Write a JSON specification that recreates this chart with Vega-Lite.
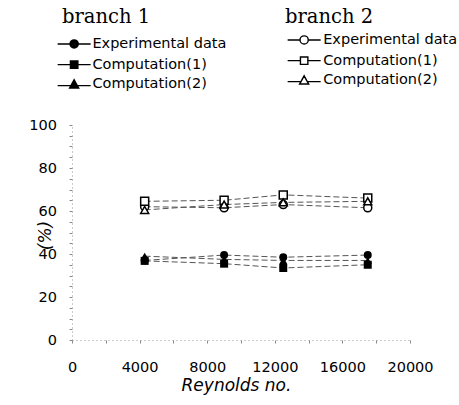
{
  "$schema": "https://vega.github.io/schema/vega-lite/v6.json",
  "width": 338,
  "height": 215,
  "autosize": {"type": "none"},
  "padding": {"left": 72, "top": 125, "right": 49, "bottom": 65},
  "background": "white",
  "config": {"view": {"stroke": null}, "axis": {"grid": false}},
  "data": {
    "values": [
      {"branch": "1", "series": "Computation(2)", "Re": 4300, "pct": 39},
      {"branch": "1", "series": "Computation(2)", "Re": 9000, "pct": 37.5},
      {"branch": "1", "series": "Computation(2)", "Re": 12500, "pct": 37},
      {"branch": "1", "series": "Computation(2)", "Re": 17500, "pct": 37},
      {"branch": "1", "series": "Experimental data", "Re": 4300, "pct": 37},
      {"branch": "1", "series": "Experimental data", "Re": 9000, "pct": 39.5},
      {"branch": "1", "series": "Experimental data", "Re": 12500, "pct": 38.5},
      {"branch": "1", "series": "Experimental data", "Re": 17500, "pct": 39.5},
      {"branch": "1", "series": "Computation(1)", "Re": 4300, "pct": 36.8},
      {"branch": "1", "series": "Computation(1)", "Re": 9000, "pct": 35.5},
      {"branch": "1", "series": "Computation(1)", "Re": 12500, "pct": 33.5},
      {"branch": "1", "series": "Computation(1)", "Re": 17500, "pct": 35},
      {"branch": "2", "series": "Experimental data", "Re": 4300, "pct": 62},
      {"branch": "2", "series": "Experimental data", "Re": 9000, "pct": 61.5},
      {"branch": "2", "series": "Experimental data", "Re": 12500, "pct": 63},
      {"branch": "2", "series": "Experimental data", "Re": 17500, "pct": 61.5},
      {"branch": "2", "series": "Computation(1)", "Re": 4300, "pct": 64.5},
      {"branch": "2", "series": "Computation(1)", "Re": 9000, "pct": 65},
      {"branch": "2", "series": "Computation(1)", "Re": 12500, "pct": 67.5},
      {"branch": "2", "series": "Computation(1)", "Re": 17500, "pct": 66},
      {"branch": "2", "series": "Computation(2)", "Re": 4300, "pct": 60.5},
      {"branch": "2", "series": "Computation(2)", "Re": 9000, "pct": 63},
      {"branch": "2", "series": "Computation(2)", "Re": 12500, "pct": 64},
      {"branch": "2", "series": "Computation(2)", "Re": 17500, "pct": 64.5}
    ]
  },
  "encoding": {
    "x": {
      "field": "Re", "type": "quantitative",
      "scale": {"domain": [0, 20000]},
      "axis": {
        "title": "Reynolds no.",
        "values": [0, 2000, 4000, 6000, 8000, 10000, 12000, 14000, 16000, 18000, 20000],
        "format": "d",
        "labelExpr": "datum.value % 4000 === 0 ? datum.label : ''",
        "domainColor": "#999", "domainDash": [1, 3], "domainWidth": 1,
        "tickColor": "#888", "tickSize": 3,
        "labelFont": "DejaVu Sans", "labelFontSize": 14.5, "labelColor": "black",
        "labelPadding": 17, "labelFlush": false, "labelOverlap": false,
        "titleFont": "DejaVu Sans", "titleFontStyle": "italic", "titleFontSize": 17,
        "titleFontWeight": "normal", "titleColor": "black",
        "titleX": 164, "titleY": 50, "titleBaseline": "alphabetic", "titleAlign": "center"
      }
    },
    "y": {
      "field": "pct", "type": "quantitative",
      "scale": {"domain": [0, 100]},
      "axis": {
        "title": "(%)",
        "values": [0, 5, 10, 15, 20, 25, 30, 35, 40, 45, 50, 55, 60, 65, 70, 75, 80, 85, 90, 95, 100],
        "labelExpr": "datum.value % 20 === 0 ? datum.label : ''",
        "domainColor": "#999", "domainDash": [1, 3], "domainWidth": 1,
        "tickColor": "#888", "tickSize": 3,
        "labelFont": "DejaVu Sans", "labelFontSize": 14.5, "labelColor": "black",
        "labelPadding": 12.5, "labelFlush": false, "labelOverlap": false,
        "titleFont": "DejaVu Sans", "titleFontStyle": "italic", "titleFontSize": 17,
        "titleFontWeight": "normal", "titleColor": "black",
        "titleX": -22, "titleY": 110, "titleAngle": -90, "titleBaseline": "alphabetic", "titleAlign": "center"
      }
    }
  },
  "layer": [
    {
      "transform": [{"filter": "datum.branch === '1'"}],
      "mark": {"type": "line", "color": "#555", "strokeWidth": 1, "strokeDash": [6, 3]},
      "encoding": {"detail": {"field": "series"}}
    },
    {
      "transform": [{"filter": "datum.branch === '2'"}],
      "mark": {"type": "line", "color": "#555", "strokeWidth": 1, "strokeDash": [6, 3]},
      "encoding": {"detail": {"field": "series"}}
    },
    {
      "transform": [{"filter": "datum.branch === '1'"}],
      "mark": {"type": "point", "filled": true, "color": "black", "size": 64, "opacity": 1},
      "encoding": {
        "shape": {
          "field": "series", "type": "nominal",
          "scale": {"domain": ["Experimental data", "Computation(1)", "Computation(2)"], "range": ["circle", "square", "triangle-up"]},
          "legend": null
        }
      }
    },
    {
      "transform": [{"filter": "datum.branch === '2'"}],
      "mark": {"type": "point", "filled": true, "fill": "white", "stroke": "black", "strokeWidth": 1.5, "size": 64, "opacity": 1},
      "encoding": {
        "shape": {
          "field": "series", "type": "nominal",
          "scale": {"domain": ["Experimental data", "Computation(1)", "Computation(2)"], "range": ["circle", "square", "triangle-up"]},
          "legend": null
        }
      }
    },
    {
      "transform": [{"filter": "datum.branch === 'legend'"}],
      "mark": {"type": "point", "filled": false, "color": "black", "strokeWidth": 1.4, "opacity": 1},
      "encoding": {
        "shape": {
          "field": "series", "type": "nominal",
          "scale": {
            "domain": ["Experimental data", "Computation(1)", "Computation(2)"],
            "range": [
              "M-1,0A1,1,0,1,0,1,0A1,1,0,1,0,-1,0Z M-0.7,0A0.7,0.7,0,1,0,0.7,0A0.7,0.7,0,1,0,-0.7,0Z M-0.4,0A0.4,0.4,0,1,0,0.4,0A0.4,0.4,0,1,0,-0.4,0Z M-0.12,0A0.12,0.12,0,1,0,0.12,0A0.12,0.12,0,1,0,-0.12,0Z M-4,0H-1 M1,0H4",
              "M-0.9,-0.9H0.9V0.9H-0.9Z M-0.6,-0.6H0.6V0.6H-0.6Z M-0.3,-0.3H0.3V0.3H-0.3Z M-0.05,-0.05H0.05V0.05H-0.05Z M-4,0H-0.9 M0.9,0H4",
              "M0,-1.1L1.1,0.9H-1.1Z M0,-0.7L0.77,0.7H-0.77Z M0,-0.3L0.44,0.5H-0.44Z M0,0.07L0.13,0.31H-0.13Z M-4,0.3H-0.77 M0.77,0.3H4"
            ]
          },
          "legend": {
            "title": "branch 1", "orient": "none", "legendX": -10, "legendY": -116.6, "padding": 0,
            "titleFont": "DejaVu Serif", "titleFontSize": 19.5, "titleFontWeight": "normal", "titleColor": "black", "titlePadding": 8.8,
            "labelFont": "DejaVu Sans", "labelFontSize": 14.5, "labelColor": "black",
            "symbolSize": 68, "symbolOffset": 4.9, "labelOffset": 11, "rowPadding": 4.7,
            "symbolStrokeWidth": 1.4, "symbolStrokeColor": "black", "symbolOpacity": 1
          }
        }
      }
    },
    {
      "transform": [{"filter": "datum.branch === 'legend'"}],
      "mark": {"type": "point", "filled": false, "color": "black", "strokeWidth": 1.4, "opacity": 1},
      "encoding": {
        "shape": {
          "field": "series", "type": "nominal",
          "scale": {
            "domain": ["Experimental data", "Computation(1)", "Computation(2)"],
            "range": [
              "M-1,0A1,1,0,1,0,1,0A1,1,0,1,0,-1,0Z M-4,0H-1 M1,0H4",
              "M-0.9,-0.9H0.9V0.9H-0.9Z M-4,0H-0.9 M0.9,0H4",
              "M0,-1.1L1.1,0.9H-1.1Z M-4,0.3H-0.77 M0.77,0.3H4"
            ]
          },
          "legend": {
            "title": "branch 2", "orient": "none", "legendX": 213, "legendY": -116.6, "padding": 0,
            "titleFont": "DejaVu Serif", "titleFontSize": 19.5, "titleFontWeight": "normal", "titleColor": "black", "titlePadding": 4.8,
            "labelFont": "DejaVu Sans", "labelFontSize": 14.5, "labelColor": "black",
            "symbolSize": 68, "symbolOffset": 11.9, "labelOffset": 11.8, "rowPadding": 4.7,
            "symbolStrokeWidth": 1.4, "symbolStrokeColor": "black", "symbolOpacity": 1
          }
        }
      }
    }
  ],
  "resolve": {"scale": {"shape": "independent"}, "legend": {"shape": "independent"}}
}
